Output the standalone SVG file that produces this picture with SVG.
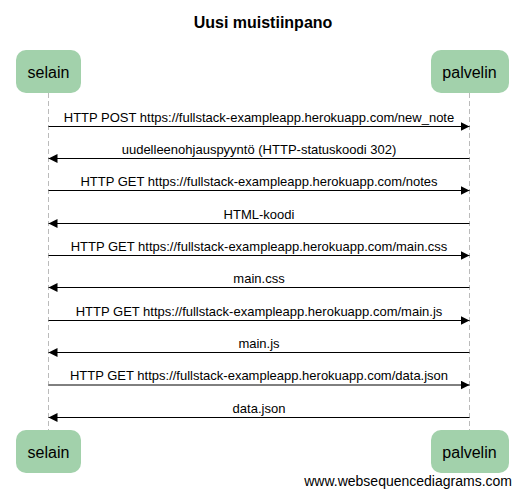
<svg xmlns="http://www.w3.org/2000/svg" width="522" height="497" viewBox="0 0 522 497">
<style>
text{font-family:"Liberation Sans",Arial,sans-serif;fill:#000}
.title{font-size:16px;font-weight:bold}
.actor rect{fill:#a2d1ab;stroke:none}
.actor text{font-size:16px;text-anchor:middle}
.life{stroke:#bbbbbb;stroke-width:1;stroke-dasharray:5,3;fill:none}
.msg line{stroke:#000;stroke-width:1}
.msg text{font-size:13px;text-anchor:middle}
.foot{font-size:14px;text-anchor:end}
</style>
<defs>
<marker id="ah" viewBox="0 0 9 9" refX="9" refY="4.5" markerWidth="9" markerHeight="9" markerUnits="userSpaceOnUse" orient="auto">
<path d="M0,0 L9,4.5 L0,9 Z" fill="#000"/>
</marker>
</defs>
<rect width="522" height="497" fill="#fff"/>
<text class="title" x="263" y="28" text-anchor="middle">Uusi muistiinpano</text>
<g id="lifelines">
<line class="life" x1="48.5" y1="93" x2="48.5" y2="430"/>
<line class="life" x1="469.5" y1="93" x2="469.5" y2="430"/>
</g>
<g id="selain" class="actor">
<rect x="16" y="50" width="65" height="43" rx="10"/>
<text x="48.5" y="78">selain</text>
</g>
<g id="palvelin" class="actor">
<rect x="431" y="50" width="78" height="43" rx="10"/>
<text x="469.5" y="78">palvelin</text>
</g>
<g id="selain-bottom" class="actor">
<rect x="16" y="430" width="65" height="43" rx="10"/>
<text x="48.5" y="458">selain</text>
</g>
<g id="palvelin-bottom" class="actor">
<rect x="431" y="430" width="78" height="43" rx="10"/>
<text x="469.5" y="458">palvelin</text>
</g>
<g id="connectors" class="msg">
<line x1="48.5" y1="126.5" x2="469.5" y2="126.5" marker-end="url(#ah)"/>
<text x="259" y="121.5">HTTP POST https://fullstack-exampleapp.herokuapp.com/new_note</text>
<line x1="469.5" y1="158.5" x2="48.5" y2="158.5" marker-end="url(#ah)"/>
<text x="259" y="153.5">uudelleenohjauspyyntö (HTTP-statuskoodi 302)</text>
<line x1="48.5" y1="190.5" x2="469.5" y2="190.5" marker-end="url(#ah)"/>
<text x="259" y="185.5">HTTP GET https://fullstack-exampleapp.herokuapp.com/notes</text>
<line x1="469.5" y1="223.5" x2="48.5" y2="223.5" marker-end="url(#ah)"/>
<text x="259" y="218.5">HTML-koodi</text>
<line x1="48.5" y1="255.5" x2="469.5" y2="255.5" marker-end="url(#ah)"/>
<text x="259" y="250.5">HTTP GET https://fullstack-exampleapp.herokuapp.com/main.css</text>
<line x1="469.5" y1="287.5" x2="48.5" y2="287.5" marker-end="url(#ah)"/>
<text x="259" y="282.5">main.css</text>
<line x1="48.5" y1="320.5" x2="469.5" y2="320.5" marker-end="url(#ah)"/>
<text x="259" y="315.5">HTTP GET https://fullstack-exampleapp.herokuapp.com/main.js</text>
<line x1="469.5" y1="352.5" x2="48.5" y2="352.5" marker-end="url(#ah)"/>
<text x="259" y="347.5">main.js</text>
<line x1="48.5" y1="385" x2="469.5" y2="385" marker-end="url(#ah)"/>
<text x="259" y="380">HTTP GET https://fullstack-exampleapp.herokuapp.com/data.json</text>
<line x1="469.5" y1="417.5" x2="48.5" y2="417.5" marker-end="url(#ah)"/>
<text x="259" y="412.5">data.json</text>
</g>
<text class="foot" x="512" y="486">www.websequencediagrams.com</text>
</svg>
